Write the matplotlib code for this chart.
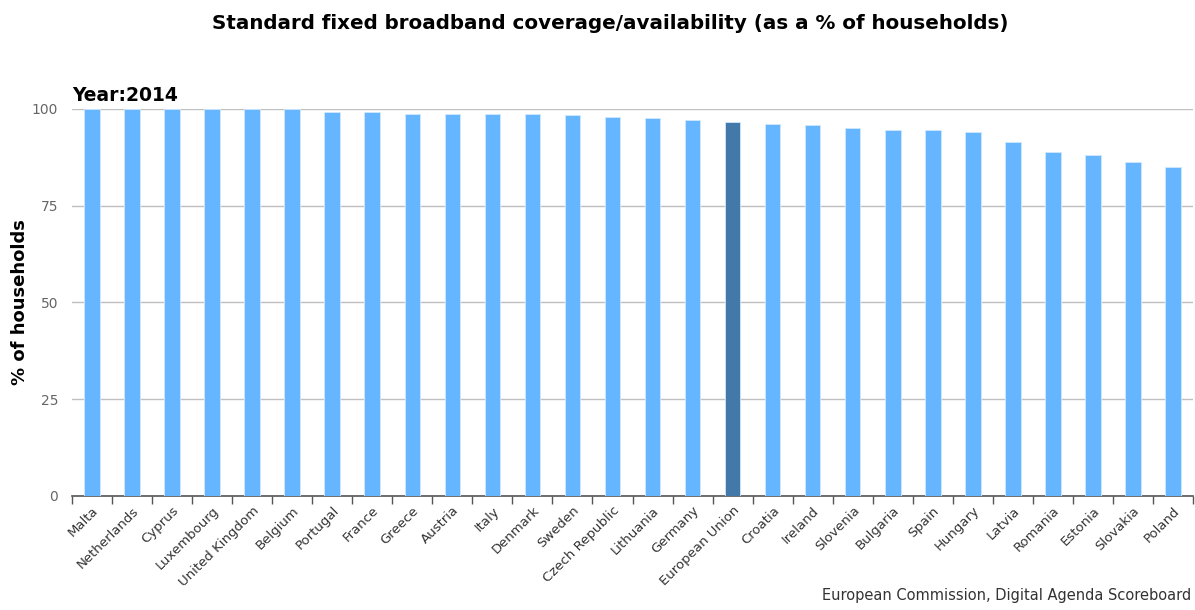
import matplotlib
matplotlib.use("Agg")
import matplotlib.pyplot as plt

countries = ["Malta", "Netherlands", "Cyprus", "Luxembourg", "United Kingdom",
             "Belgium", "Portugal", "France", "Greece", "Austria", "Italy",
             "Denmark", "Sweden", "Czech Republic", "Lithuania", "Germany",
             "European Union", "Croatia", "Ireland", "Slovenia", "Bulgaria",
             "Spain", "Hungary", "Latvia", "Romania", "Estonia", "Slovakia",
             "Poland"]
coverage = [100.0, 100.0, 100.0, 100.0, 100.0, 100.0, 99.1, 99.1, 98.7, 98.7,
            98.7, 98.7, 98.4, 97.9, 97.6, 97.2, 96.5, 96.1, 95.8, 95.0, 94.6,
            94.6, 94.0, 91.4, 88.8, 88.0, 86.2, 85.0]
highlight = "European Union"

colors = ["#4279a8" if c == highlight else "#66b6ff" for c in countries]

fig = plt.figure(figsize=(11.95, 6.10), dpi=100)
ax = fig.add_axes([0.0603, 0.1874, 0.938, 0.634])

x = range(len(countries))
ax.bar(x, coverage, width=0.39, color=colors, edgecolor="#d0e8ff", linewidth=0.6, zorder=3)

ax.set_xlim(-0.5, len(countries) - 0.5)
ax.set_ylim(0, 100)
ax.set_yticks([0, 25, 50, 75, 100])
ax.tick_params(axis="y", length=0, labelsize=10, labelcolor="#666666", pad=10)
ax.yaxis.grid(True, color="#c0c0c0", linewidth=1, zorder=0)

# ticks sit between the categories, labels at the bar centres
ax.set_xticks([i - 0.5 for i in range(len(countries) + 1)])
ax.set_xticklabels([])
ax.set_xticks(list(x), minor=True)
ax.set_xticklabels(countries, minor=True, rotation=45, ha="right",
                   rotation_mode="anchor", fontsize=9.5, color="#333333")
ax.tick_params(axis="x", which="major", length=6, color="#555555", width=1)
ax.tick_params(axis="x", which="minor", length=0, pad=6)

for side in ["top", "right", "left"]:
    ax.spines[side].set_visible(False)
ax.spines["bottom"].set_color("#555555")
ax.spines["bottom"].set_linewidth(1.2)

ax.set_ylabel("% of households", fontsize=13, fontweight="bold")
ax.yaxis.set_label_coords(-0.038, 0.5)

fig.text(0.511, 0.962, "Standard fixed broadband coverage/availability (as a % of households)",
         ha="center", va="center", fontsize=14.3, fontweight="bold")
fig.text(0.0603, 0.843, "Year:2014", ha="left", va="center",
         fontsize=13.5, fontweight="bold")
fig.text(0.997, 0.012, "European Commission, Digital Agenda Scoreboard",
         ha="right", va="bottom", fontsize=10.5, color="#333333")

fig.savefig("out.png", dpi=100, facecolor="white")
